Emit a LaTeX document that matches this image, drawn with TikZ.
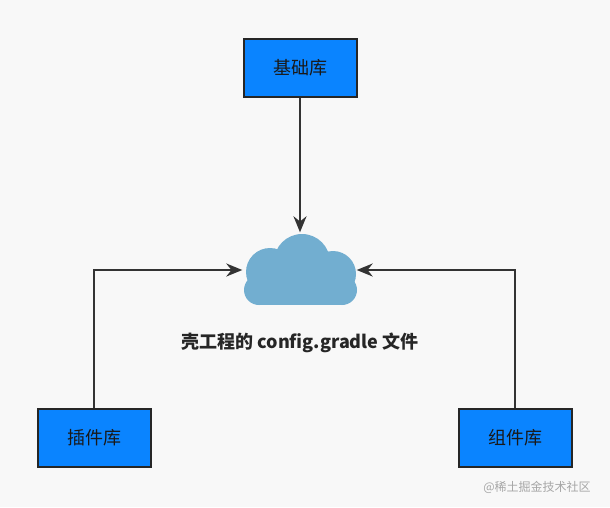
\documentclass[tikz,border=0pt]{standalone}
\usepackage{fontspec}
\newfontfamily\cjk{Noto Sans CJK SC}
\usetikzlibrary{arrows.meta}
\definecolor{boxblue}{HTML}{0A84FF}
\definecolor{cloudc}{HTML}{72AED0}
\definecolor{bg}{HTML}{F8F8F8}
\tikzset{
  libbox/.style={draw=black!85,line width=2pt,fill=boxblue,minimum width=113pt,minimum height=58pt,font=\cjk\fontsize{18}{18}\selectfont,text=black!90},
  conn/.style={line width=2.2pt,draw=black!80,-{Stealth[length=16pt,width=13pt]}}
}
\begin{document}
\begin{tikzpicture}[x=1pt,y=-1pt]
\fill[bg] (0,0) rectangle (610,507);
\useasboundingbox (0,0) rectangle (610,507);
\node[libbox] (base) at (300,68) {基础库};
\node[libbox] (plug) at (94,438) {插件库};
\node[libbox] (comp) at (515,438) {组件库};
% cloud
\begin{scope}[fill=cloudc]
\fill (270,272) circle (24);
\fill (302,262) circle (28);
\fill (333,274) circle (23);
\fill (259,290) circle (15);
\fill (342,290) circle (15);
\fill (259,285) rectangle (342,305);
\fill (259,305) circle (0);
\end{scope}
\node[minimum width=115pt,minimum height=75pt,inner sep=0] (cloud) at (300,270) {};
\node[font=\cjk\bfseries\fontsize{18}{18}\selectfont,text=black!85] (lbl) at (300,343) {壳工程的 config.gradle 文件};
\node[font=\cjk\fontsize{12}{12}\selectfont,text=black!35] (wm) at (537,487) {@稀土掘金技术社区};
\draw[conn] (base.south) -- (cloud.north);
\draw[conn] (plug.north) |- (cloud.west);
\draw[conn] (comp.north) |- ([xshift=-1pt]cloud.east);
\end{tikzpicture}
\end{document}
